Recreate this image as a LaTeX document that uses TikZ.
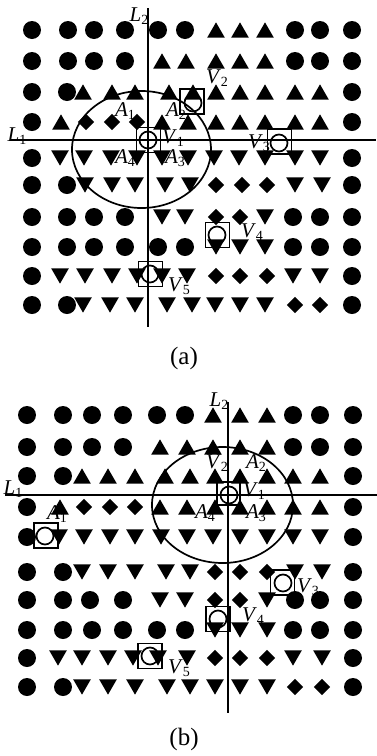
\documentclass[tikz,border=0pt]{standalone}
\usepackage{fontspec}
\setmainfont{Liberation Serif}
\usetikzlibrary{shapes.geometric}
\newcommand\lbl[2]{\textit{#1}\raisebox{-3pt}{\fontsize{14}{14}\selectfont #2}}
\begin{document}
\begin{tikzpicture}[x=1pt,y=-1pt,
  blob/.style={circle,fill=black,inner sep=0,minimum size=18pt},
  tri/.style={regular polygon,regular polygon sides=3,fill=black,inner sep=0,minimum size=20.5pt},
  tup/.style={tri,yshift=-2.6pt},
  tdown/.style={tri,shape border rotate=180,yshift=2.6pt},
  dmd/.style={diamond,fill=black,inner sep=0,minimum width=16.5pt,minimum height=16.5pt},
  axis/.style={line width=1.9pt},
  oval/.style={line width=1.7pt},
  ring/.style={circle,draw,line width=1.7pt,minimum size=17pt,inner sep=0},
  frame/.style={draw,line width=1.7pt,inner sep=0,minimum width=24pt,minimum height=25pt},
  lab/.style={font=\fontsize{21}{21}\selectfont,inner sep=0},
  captext/.style={font=\fontsize{25}{25}\selectfont,inner sep=0}]
\useasboundingbox (0,0) rectangle (377,756);
% ---------------- panel (a) ----------------
\foreach \yy/\row [count=\r] in {
30/{32/blob,68/blob,94/blob,125/blob,158/blob,185/blob,216/tup,240/tup,265/tup,295/blob,320/blob,352/blob},
61/{32/blob,68/blob,94/blob,125/blob,162/tup,186/tup,216/tup,240/tup,265/tup,295/blob,320/blob,352/blob},
92/{32/blob,67/blob,83/tup,112/tup,135/tup,169/tup,193/tup,216/tup,240/tup,265/tup,295/tup,320/tup,352/blob},
122/{32/blob,61/tup,86/dmd,112/dmd,137/dmd,162/tup,188/tup,216/tup,240/tup,265/tup,295/tup,320/tup,352/blob},
158/{32/blob,60/tdown,84/tdown,111/tdown,137/tdown,162/tdown,188/tdown,214/tdown,239/tdown,265/tdown,295/tdown,320/tdown,352/blob},
185/{32/blob,67/blob,85/tdown,112/tdown,135/tdown,165/tdown,190/tdown,216/dmd,242/dmd,267/dmd,295/tdown,322/tdown,352/blob},
217/{32/blob,67/blob,94/blob,125/blob,162/tdown,185/tdown,216/dmd,240/dmd,265/tdown,293/blob,320/blob,352/blob},
247/{32/blob,67/blob,94/blob,125/blob,158/blob,185/blob,216/tdown,240/tdown,265/tdown,293/blob,320/blob,352/blob},
276/{32/blob,60/tdown,85/tdown,112/tdown,137/tdown,162/tdown,187/tdown,216/dmd,240/dmd,267/dmd,293/tdown,320/tdown,352/blob},
305/{32/blob,67/blob,83/tdown,110/tdown,135/tdown,167/tdown,192/tdown,215/tdown,240/tdown,265/tdown,295/dmd,320/dmd,352/blob}}
{\foreach \xx/\t [count=\i] in \row {\node[\t] (a\r-\i) at (\xx,\yy) {};}}
\coordinate (aL1w) at (10,140);
\coordinate (aL1e) at (376,140);
\coordinate (aL2n) at (148,8);
\coordinate (aL2s) at (148,327);
\draw[axis] (aL1w) -- (aL1e);
\draw[axis] (aL2n) -- (aL2s);
\node[draw=none,inner sep=0,minimum width=139pt,minimum height=117pt] (aov) at (141.5,149.5) {};
\draw[oval] (aov.center) ellipse [x radius=69.5, y radius=58.5];
\node[frame] (aV1b) at (148.5,140) {};
\node[ring] (aV1c) at (148,140) {};
\node[frame] (aV2b) at (192,101.5) {};
\node[ring] (aV2c) at (193,103) {};
\node[frame] (aV3b) at (279.5,141.5) {};
\node[ring] (aV3c) at (279,143) {};
\node[frame] (aV4b) at (217.5,235) {};
\node[ring] (aV4c) at (217,235) {};
\node[frame] (aV5b) at (150.5,274) {};
\node[ring] (aV5c) at (150,274) {};
\node[lab] (aL2t) at (139,16) {\lbl{L}{2}};
\node[lab] (aL1t) at (17,136) {\lbl{L}{1}};
\node[lab] (aA1t) at (125,111) {\lbl{A}{1}};
\node[lab] (aA2t) at (176,111) {\lbl{A}{2}};
\node[lab] (aV1t) at (173,138) {\lbl{V}{1}};
\node[lab] (aV2t) at (217,78) {\lbl{V}{2}};
\node[lab] (aV3t) at (259,143) {\lbl{V}{3}};
\node[lab] (aA4t) at (125,158) {\lbl{A}{4}};
\node[lab] (aA3t) at (175,158) {\lbl{A}{3}};
\node[lab] (aV4t) at (252,232) {\lbl{V}{4}};
\node[lab] (aV5t) at (179,286) {\lbl{V}{5}};
\node[captext] (acap) at (184,358) {(a)};
% ---------------- panel (b) ----------------
\foreach \yy/\row [count=\r] in {
415/{27/blob,63/blob,92/blob,123/blob,157/blob,185/blob,213/tup,240/tup,267/tup,293/blob,320/blob,353/blob},
447/{27/blob,63/blob,92/blob,123/blob,160/tup,187/tup,213/tup,240/tup,267/tup,293/blob,320/blob,353/blob},
476/{27/blob,63/blob,82/tup,108/tup,135/tup,165/tup,190/tup,215/tup,240/tup,267/tup,293/tup,320/tup,353/blob},
507/{27/blob,60/tup,84/dmd,110/dmd,135/dmd,160/tup,187/tup,215/tup,240/tup,267/tup,293/tup,320/tup,353/blob},
537/{27/blob,59/tdown,84/tdown,110/tdown,135/tdown,161/tdown,187/tdown,213/tdown,240/tdown,267/tdown,293/tdown,320/tdown,353/blob},
572/{27/blob,63/blob,82/tdown,108/tdown,135/tdown,166/tdown,190/tdown,215/dmd,240/dmd,267/dmd,295/tdown,322/tdown,353/blob},
600/{27/blob,63/blob,90/blob,123/blob,160/tdown,185/tdown,215/dmd,240/dmd,267/tdown,295/blob,320/blob,353/blob},
630/{27/blob,63/blob,92/blob,123/blob,157/blob,185/blob,215/tdown,240/tdown,267/tdown,293/blob,320/blob,353/blob},
658/{27/blob,58/tdown,82/tdown,108/tdown,133/tdown,158/tdown,187/tdown,215/dmd,240/dmd,267/dmd,293/tdown,322/tdown,353/blob},
687/{27/blob,63/blob,82/tdown,108/tdown,135/tdown,167/tdown,190/tdown,215/tdown,240/tdown,267/tdown,295/dmd,322/dmd,353/blob}}
{\foreach \xx/\t [count=\i] in \row {\node[\t] (b\r-\i) at (\xx,\yy) {};}}
\coordinate (bL1w) at (5,495);
\coordinate (bL1e) at (377,495);
\coordinate (bL2n) at (228,402);
\coordinate (bL2s) at (228,713);
\draw[axis] (bL1w) -- (bL1e);
\draw[axis] (bL2n) -- (bL2s);
\node[draw=none,inner sep=0,minimum width=141pt,minimum height=116pt] (bov) at (222.5,505) {};
\draw[oval] (bov.center) ellipse [x radius=70.5, y radius=58];
\node[frame,minimum width=23pt,minimum height=23pt] (bV1b) at (228.5,493.5) {};
\node[ring] (bV1c) at (229,495) {};
\node[frame] (bV3b) at (282.5,582.5) {};
\node[ring] (bV3c) at (283,583) {};
\node[frame] (bV4b) at (218,619) {};
\node[ring] (bV4c) at (218,619) {};
\node[frame] (bV5b) at (150,656) {};
\node[ring] (bV5c) at (150,656) {};
\node[frame] (bA1b) at (46,535.5) {};
\node[ring] (bA1c) at (45,536) {};
\node[lab] (bL2t) at (219,401) {\lbl{L}{2}};
\node[lab] (bL1t) at (13,489) {\lbl{L}{1}};
\node[lab] (bV2t) at (217,463) {\lbl{V}{2}};
\node[lab] (bA2t) at (256,463) {\lbl{A}{2}};
\node[lab] (bV1t) at (254,491) {\lbl{V}{1}};
\node[lab] (bA4t) at (205,513) {\lbl{A}{4}};
\node[lab] (bA3t) at (256,513) {\lbl{A}{3}};
\node[lab] (bA1t) at (57,514) {\lbl{A}{1}};
\node[lab] (bV3t) at (308,587) {\lbl{V}{3}};
\node[lab] (bV4t) at (253,616) {\lbl{V}{4}};
\node[lab] (bV5t) at (179,668) {\lbl{V}{5}};
\node[captext] (bcap) at (184,739) {(b)};
\end{tikzpicture}
\end{document}
